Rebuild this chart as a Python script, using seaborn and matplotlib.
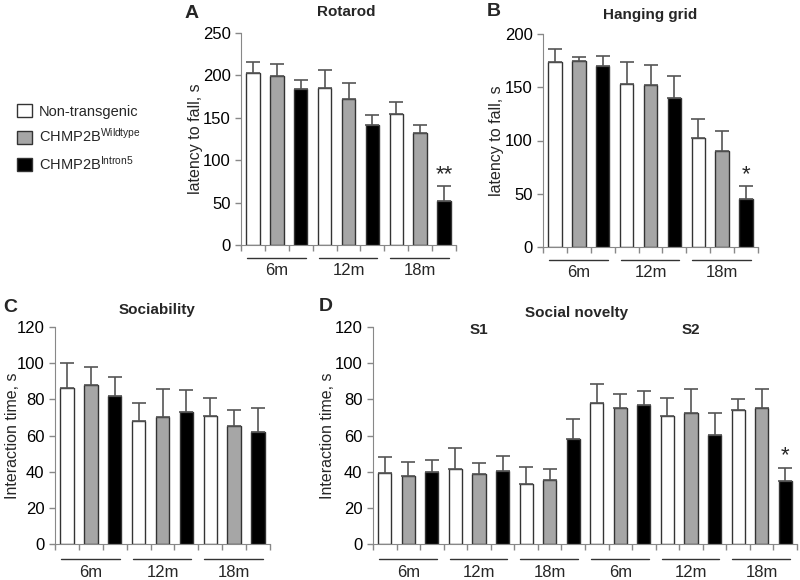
import numpy as np
import pandas as pd
import matplotlib
matplotlib.use('Agg')
import matplotlib.pyplot as plt
import matplotlib.transforms as mtransforms
from matplotlib.patches import Patch
import seaborn as sns

# data (mean, upper error)
ages = ['6m', '12m', '18m']
genotypes = ['Non-transgenic', 'Wildtype', 'Intron5']
bar_colors = ['white', '#a6a6a6', 'black']

rotarod_mean = [203, 199, 184, 185, 172, 141, 155, 132, 52]
rotarod_err = [13, 14, 11, 21, 19, 12, 14, 10, 17]

grid_mean = [174, 175, 170, 153, 152, 140, 102, 90, 45]
grid_err = [12, 3, 9, 21, 19, 21, 18, 19, 12]

soc_mean = [86, 88, 82, 68, 70, 73, 71, 65.5, 62]
soc_err = [14, 10, 10.5, 10, 15.5, 12, 9.5, 8.7, 13]

nov_s1_mean = [39.4, 37.6, 40, 41.5, 38.9, 40.2, 33.3, 35.4, 58]
nov_s1_err = [8.7, 7.6, 6.7, 11.6, 6, 8.7, 9.3, 6.1, 11]
nov_s2_mean = [78, 75, 77, 70.7, 72.4, 60.2, 74.3, 75, 34.8]
nov_s2_err = [10.6, 8.1, 7.8, 10, 13.3, 12.2, 6.1, 10.9, 7.4]

sns.set_style('ticks')
plt.rcParams['font.family'] = ['Liberation Sans', 'DejaVu Sans']
plt.rcParams['mathtext.default'] = 'regular'
plt.rcParams['axes.edgecolor'] = '#888888'
plt.rcParams['xtick.color'] = '#888888'
plt.rcParams['ytick.color'] = '#888888'
plt.rcParams['xtick.labelcolor'] = 'black'
plt.rcParams['ytick.labelcolor'] = 'black'


def make_df(means, errs, prefix=''):
    rows = []
    i = 0
    for age in ages:
        for g in genotypes:
            rows.append({'slot': prefix + age + '_' + g, 'age': age, 'genotype': g,
                         'value': means[i], 'err': errs[i]})
            i += 1
    return pd.DataFrame(rows)


def draw_panel(ax, df, ymax, ystep, ylabel, label_x, stars=None, line_y=-0.06, label_y=-0.12):
    n = len(df)
    sns.barplot(data=df, x='slot', y='value', hue='genotype', hue_order=genotypes,
                order=list(df['slot']), palette=dict(zip(genotypes, bar_colors)),
                dodge=False, width=0.56, edgecolor='#333333', linewidth=1,
                errorbar=None, legend=False, ax=ax)
    # error bars on top of bars (upper only, excel style)
    bars = sorted(ax.patches, key=lambda p: p.get_x())
    xs = [p.get_x() + p.get_width() / 2 for p in bars]
    hs = [p.get_height() for p in bars]
    errs = df['err'].values
    ax.errorbar(xs, hs, yerr=[np.zeros(n), errs], fmt='none', ecolor='#555555',
                elinewidth=1.2, capsize=5, capthick=1.2, zorder=1)
    ax.set_xlim(-0.5, n - 0.5)
    ax.set_xticks(np.arange(-0.5, n, 1))
    ax.set_xticklabels([])
    ax.set_xlabel('')
    ax.set_ylim(0, ymax)
    ax.set_yticks(np.arange(0, ymax + 1, ystep))
    ax.tick_params(axis='y', labelsize=12, length=4, width=1)
    ax.tick_params(axis='x', length=4, width=1)
    ax.set_ylabel(ylabel, fontsize=11.5)
    ax.yaxis.set_label_coords(label_x, 0.5)
    sns.despine(ax=ax)
    # age group lines below axis
    trans = mtransforms.blended_transform_factory(ax.transData, ax.transAxes)
    for k in range(n // 3):
        ax.plot([3 * k - 0.25, 3 * k + 2.2], [line_y, line_y], color='#333333',
                lw=1, transform=trans, clip_on=False)
        ax.text(3 * k + 1, label_y, df['age'].iloc[3 * k], transform=trans,
                ha='center', va='center', fontsize=12)
    if stars:
        for idx, s in stars:
            ax.text(xs[idx], hs[idx] + errs[idx] + ymax * 0.005, s, ha='center',
                    va='bottom', fontsize=16)


fig = plt.figure(figsize=(8, 5.8), dpi=100)


def fx(px):
    return px / 800


def fy(py):
    return 1 - py / 580


axA = fig.add_axes([fx(241), fy(245), fx(456 - 241), fy(33) - fy(245)])
axB = fig.add_axes([fx(543), fy(247), fx(758 - 543), fy(34) - fy(247)])
axC = fig.add_axes([fx(55), fy(544), fx(270 - 55), fy(327) - fy(544)])
axD = fig.add_axes([fx(373), fy(544), fx(797 - 373), fy(327) - fy(544)])

draw_panel(axA, make_df(rotarod_mean, rotarod_err), 250, 50, 'latency to fall, s', -0.175,
           stars=[(8, '**')])
draw_panel(axB, make_df(grid_mean, grid_err), 200, 50, 'latency to fall, s', -0.18,
           stars=[(8, '*')])
draw_panel(axC, make_df(soc_mean, soc_err), 120, 20, 'Interaction time, s', -0.165,
           line_y=-0.07, label_y=-0.13)
df_nov = pd.concat([make_df(nov_s1_mean, nov_s1_err, 'S1_'),
                    make_df(nov_s2_mean, nov_s2_err, 'S2_')], ignore_index=True)
draw_panel(axD, df_nov, 120, 20, 'Interaction time, s', -0.09, stars=[(17, '*')],
           line_y=-0.07, label_y=-0.13)

# titles and panel letters
fig.text(fx(346), fy(12), 'Rotarod', ha='center', va='center', fontsize=11, weight='bold')
fig.text(fx(650), fy(15), 'Hanging grid', ha='center', va='center', fontsize=11, weight='bold')
fig.text(fx(157), fy(310), 'Sociability', ha='center', va='center', fontsize=11, weight='bold')
fig.text(fx(577), fy(313), 'Social novelty', ha='center', va='center', fontsize=11, weight='bold')
for letter, x, y in [('A', 192, 14), ('B', 494, 11), ('C', 10, 307), ('D', 326, 306)]:
    fig.text(fx(x), fy(y), letter, ha='center', va='center', fontsize=14, weight='bold')
transD = mtransforms.blended_transform_factory(axD.transData, axD.transAxes)
axD.text(4, 0.986, 'S1', transform=transD, ha='center', va='center', fontsize=11, weight='bold')
axD.text(13, 0.986, 'S2', transform=transD, ha='center', va='center', fontsize=11, weight='bold')

# legend
handles = [Patch(facecolor=c, edgecolor='#333333', linewidth=1) for c in bar_colors]
labels = ['Non-transgenic', r'CHMP2B$^{Wildtype}$', r'CHMP2B$^{Intron5}$']
fig.legend(handles, labels, loc='upper left', bbox_to_anchor=(fx(17), fy(104)),
           frameon=False, fontsize=10.5, handlelength=1.0, handleheight=1.0,
           handletextpad=0.5, labelspacing=0.6, borderpad=0, borderaxespad=0)

fig.savefig('out.png', dpi=100)
